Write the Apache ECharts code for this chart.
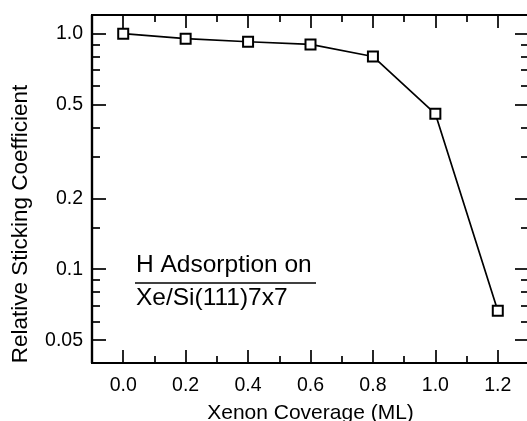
<!DOCTYPE html>
<html><head><meta charset="utf-8">
<script src="https://cdn.jsdelivr.net/npm/echarts@6/dist/echarts.min.js"></script>
<style>html,body{margin:0;padding:0;background:#fff}#c{width:527px;height:421px}</style>
</head><body><div id="c"></div>
<script>
const coverage = [0.0, 0.2, 0.4, 0.6, 0.8, 1.0, 1.2];
const sticking = [1.0, 0.952, 0.924, 0.90, 0.80, 0.457, 0.0666];
const xMajorTicks = [0, 0.2, 0.4, 0.6, 0.8, 1.0, 1.2];
const xMajorLabels = ['0.0', '0.2', '0.4', '0.6', '0.8', '1.0', '1.2'];
const xMinorTicks = [0.1, 0.3, 0.5, 0.7, 0.9, 1.1];
const yMajorTicks = [0.05, 0.1, 0.2, 0.5, 1.0];
const yMajorLabels = ['0.05', '0.1', '0.2', '0.5', '1.0'];
const yMinorTicks = [0.06, 0.07, 0.08, 0.09, 0.15, 0.3, 0.4, 0.6, 0.7, 0.8, 0.9];

const FONT = 'Liberation Sans, Arial, Helvetica, sans-serif';
const X_MIN = -0.1, X_MAX = 1.3, Y_MIN = 0.04, Y_MAX = 1.2;

function lbl(values, labels) {
  return function (v) {
    for (let i = 0; i < values.length; i++) {
      if (Math.abs(values[i] - v) < 1e-9) return labels[i];
    }
    return '';
  };
}

function xAxisDef(position, ticks, len, showLabels, extra) {
  return Object.assign({
    type: 'value', min: X_MIN, max: X_MAX, position: position,
    axisLine: { show: true, onZero: false, lineStyle: { color: '#000', width: 2.2 } },
    axisTick: { show: true, inside: true, length: len, customValues: ticks, lineStyle: { color: '#000', width: 1.7 } },
    axisLabel: showLabels ? {
      show: true, customValues: ticks, formatter: lbl(xMajorTicks, xMajorLabels),
      color: '#000', fontSize: 19.5, fontFamily: FONT, margin: 13
    } : { show: false },
    splitLine: { show: false }
  }, extra || {});
}

function yAxisDef(position, ticks, len, showLabels, extra) {
  return Object.assign({
    type: 'log', logBase: 10, min: Y_MIN, max: Y_MAX, position: position,
    axisLine: { show: true, onZero: false, lineStyle: { color: '#000', width: 2.2 } },
    axisTick: { show: true, inside: true, length: len, customValues: ticks, lineStyle: { color: '#000', width: 1.7 } },
    axisLabel: showLabels ? {
      show: true, customValues: ticks, formatter: lbl(yMajorTicks, yMajorLabels),
      color: '#000', fontSize: 19.5, fontFamily: FONT, margin: 9
    } : { show: false },
    splitLine: { show: false }
  }, extra || {});
}

const chart = echarts.init(document.getElementById('c'), null, { renderer: 'canvas' });
chart.setOption({
  animation: false,
  backgroundColor: '#fff',
  grid: { left: 92, top: 15, right: -2, bottom: 58, containLabel: false, outerBoundsMode: 'none' },
  xAxis: [
    xAxisDef('bottom', xMajorTicks, 13, true, {
      name: 'Xenon Coverage (ML)', nameLocation: 'middle', nameGap: 40,
      nameTextStyle: { color: '#000', fontSize: 21, fontFamily: FONT }
    }),
    xAxisDef('bottom', xMinorTicks, 7, false),
    xAxisDef('top', xMajorTicks, 13, false),
    xAxisDef('top', xMinorTicks, 7, false)
  ],
  yAxis: [
    yAxisDef('left', yMajorTicks, 14, true, {
      name: 'Relative Sticking Coefficient', nameLocation: 'middle', nameGap: 60,
      nameTextStyle: { color: '#000', fontSize: 22.5, fontFamily: FONT, padding: [0, 70, 0, 0] }
    }),
    yAxisDef('left', yMinorTicks, 8, false),
    yAxisDef('right', yMajorTicks, 14, false),
    yAxisDef('right', yMinorTicks, 8, false)
  ],
  graphic: [
    { type: 'text', left: 136, top: 253, style: { text: 'H Adsorption on', fill: '#000', font: '24.5px ' + FONT } },
    { type: 'line', shape: { x1: 135, y1: 283, x2: 316, y2: 283 }, style: { stroke: '#000', lineWidth: 1.6 } },
    { type: 'text', left: 136, top: 286, style: { text: 'Xe/Si(111)7x7', fill: '#000', font: '24.5px ' + FONT } }
  ],
  series: [{
    type: 'line', xAxisIndex: 0, yAxisIndex: 0,
    data: coverage.map((x, i) => [x, sticking[i]]),
    symbol: 'rect', symbolSize: 10, showSymbol: true,
    lineStyle: { color: '#000', width: 1.7 },
    itemStyle: { color: '#fff', borderColor: '#000', borderWidth: 2 },
    emphasis: { disabled: true }
  }]
});
</script></body></html>
